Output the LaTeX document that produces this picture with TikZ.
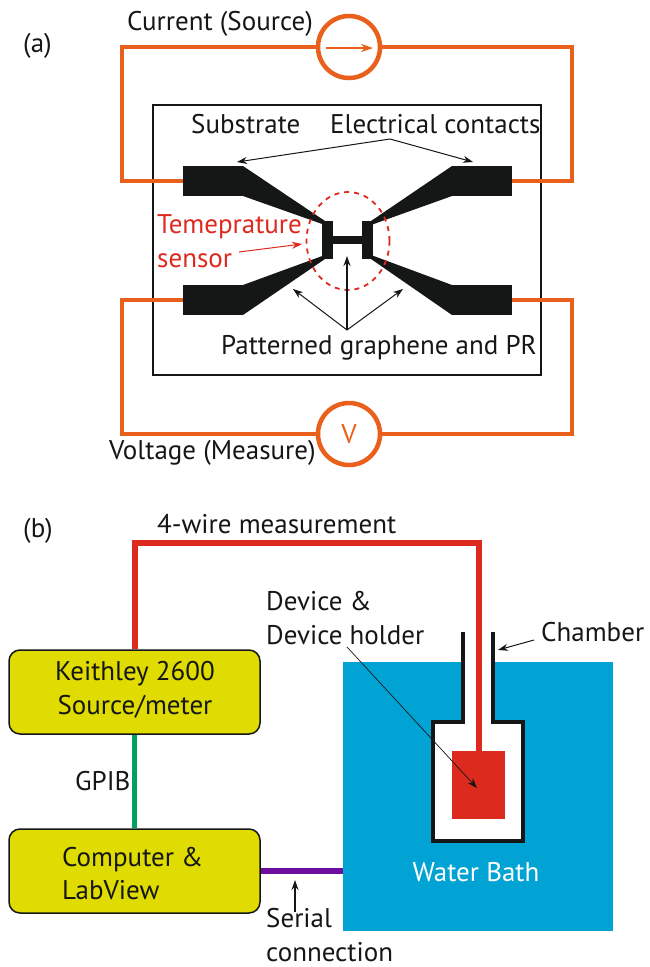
\documentclass[tikz,border=0pt]{standalone}
\usepackage{fontspec}
\setmainfont{PT Sans}
\usetikzlibrary{arrows.meta,shapes.geometric}
\definecolor{wireorange}{HTML}{E8601C}
\definecolor{sensorred}{HTML}{DD2A1E}
\definecolor{padblack}{HTML}{141716}
\definecolor{bathblue}{HTML}{00A3D3}
\definecolor{boxyellow}{HTML}{E0DB00}
\definecolor{gpibgreen}{HTML}{00A160}
\definecolor{serialpurple}{HTML}{6C0D9E}
\tikzset{
  lbl/.style={inner sep=0pt,font=\fontsize{27}{33.5}\selectfont,text=padblack},
  wire/.style={draw=wireorange,line width=4.5pt},
  meter/.style={draw=wireorange,line width=4.5pt,circle,fill=white,minimum size=62pt,inner sep=0pt},
  padbox/.style={fill=padblack,minimum width=60pt,minimum height=30pt,inner sep=0pt},
  bar/.style={fill=padblack,minimum width=11pt,minimum height=38pt,inner sep=0pt},
  note/.style={line width=1pt,-{Stealth[length=10pt,width=7pt]},draw=padblack},
  box/.style={draw=padblack,line width=1.5pt,fill=boxyellow,rounded corners=11pt,minimum width=251pt,minimum height=84pt,inner sep=0pt}
}
\begin{document}
\begin{tikzpicture}[x=1pt,y=-1pt]
    \useasboundingbox (0,0) rectangle (650,967);

    % (a) sample
    \node [draw=padblack,line width=1.5pt,minimum width=388pt,minimum height=270pt,inner sep=0pt] (substrate) at (347,240) {};

    \node [padbox] (pad1) at (213,181) {};
    \node [padbox] (pad2) at (482,181) {};
    \node [padbox] (pad3) at (213,300) {};
    \node [padbox] (pad4) at (482,300) {};
    \node [bar] (bar1) at (327.5,240) {};
    \node [bar] (bar2) at (367.5,240) {};
    \node [fill=padblack,minimum width=30pt,minimum height=8pt,inner sep=0pt] (bridge) at (347.5,240) {};
    \fill[padblack] (243,166) -- (325,221) -- (325,225) -- (243,196) -- cycle;
    \fill[padblack] (452,166) -- (371,221) -- (371,225) -- (452,196) -- cycle;
    \fill[padblack] (243,315) -- (325,259) -- (325,255) -- (243,285) -- cycle;
    \fill[padblack] (452,315) -- (371,259) -- (371,255) -- (452,285) -- cycle;

    \node [draw=sensorred,line width=1.8pt,dash pattern=on 5pt off 5pt,ellipse,minimum width=83pt,minimum height=98pt,inner sep=0pt] (sensor) at (348,241) {};

    % (a) wires
    \node [meter] (source) at (349,47) {};
    \node [meter] (measure) at (349,434) {};
    \coordinate (c1) at (122,47);
    \coordinate (c2) at (572,47);
    \coordinate (c3) at (122,434);
    \coordinate (c4) at (572,434);
    \draw[wire] (pad1.west) -| (c1) -- (source.west);
    \draw[wire] (pad2.east) -| (c2) -- (source.east);
    \draw[wire] (pad3.west) -| (c3) -- (measure.west);
    \draw[wire] (pad4.east) -| (c4) -- (measure.east);

    \coordinate (a1) at (326,48);
    \coordinate (a2) at (373,48);
    \draw[draw=wireorange,line width=1.5pt,-{Stealth[length=12pt,width=8pt]}] (a1) -- (a2);
    \node [lbl,text=wireorange] (vlabel) at (measure) {V};

    % (a) labels
    \node [lbl,anchor=west] (alabel) at (23,46) {(a)};
    \node [lbl,anchor=west] (currentlabel) at (127,24) {Current (Source)};
    \node [lbl,anchor=west] (voltagelabel) at (109,453) {Voltage (Measure)};
    \node [lbl,anchor=west] (substratelabel) at (191,124) {Substrate};
    \node [lbl,anchor=west] (contactslabel) at (330,124) {Electrical contacts};
    \node [lbl,anchor=west,text=sensorred,align=left] (sensorlabel) at (157,241) {Temeprature\\sensor};
    \node [lbl,anchor=west] (patternlabel) at (221,348) {Patterned graphene and PR};

    \coordinate (ec) at (390,139);
    \coordinate (ec1) at (237,162);
    \coordinate (ec2) at (473,162);
    \draw[note] (ec) -- (ec1);
    \draw[note] (ec) -- (ec2);
    \coordinate (sn) at (239,252);
    \coordinate (sn1) at (302,244);
    \draw[note,draw=sensorred] (sn) -- (sn1);
    \coordinate (pg) at (347,330);
    \coordinate (pg1) at (293,289);
    \coordinate (pg2) at (347,256);
    \coordinate (pg3) at (403,289);
    \draw[note] (pg) -- (pg1);
    \draw[note,line width=1.6pt] (pg) -- (pg2);
    \draw[note] (pg) -- (pg3);

    % (b) setup
    \node [fill=bathblue,minimum width=270pt,minimum height=269pt,inner sep=0pt] (bath) at (478,796.5) {};
    \node [box] (keithley) at (134.5,692) {};
    \node [box] (computer) at (134.5,871) {};
    \node [lbl,align=center] (keithleylabel) at (135,690) {Keithley 2600\\Source/meter};
    \node [lbl,anchor=west,align=left] (computerlabel) at (62,873.5) {Computer \&\\LabView};

    \draw[draw=padblack,line width=3.5pt,fill=white] (463,632) -- (463,722) -- (433,722) -- (433,841) -- (523,841) -- (523,722) -- (493,722) -- (493,632);
    \node [fill=sensorred,minimum width=53pt,minimum height=68pt,inner sep=0pt] (device) at (478.5,785) {};

    \coordinate (w1) at (134.5,543);
    \coordinate (w2) at (478.5,543);
    \draw[draw=sensorred,line width=6pt] (keithley.north) -- (w1) -- (w2) -- (device.north);
    \draw[draw=gpibgreen,line width=5pt] (keithley.south) -- (computer.north);
    \draw[draw=serialpurple,line width=5.5pt] (computer.east) -- (bath.west |- computer.east);

    % (b) labels
    \node [lbl,anchor=west] (blabel) at (23,531) {(b)};
    \node [lbl,anchor=west] (fourwire) at (157,524) {4-wire measurement};
    \node [lbl,anchor=west,align=left] (devicelabel) at (266,618) {Device \&\\Device holder};
    \node [lbl,anchor=west] (chamberlabel) at (541,632) {Chamber};
    \node [lbl,text=white] (bathlabel) at (476,872) {Water Bath};
    \node [lbl,anchor=west] (gpiblabel) at (75,781) {GPIB};
    \node [lbl,anchor=west,align=left] (seriallabel) at (266,935) {Serial\\connection};

    \coordinate (dv) at (347,647);
    \coordinate (dv1) at (477,788);
    \draw[note,line width=0.7pt] (dv) -- (dv1);
    \coordinate (ch) at (534,640);
    \coordinate (ch1) at (498,650);
    \draw[note] (ch) -- (ch1);
    \coordinate (sr) at (295,912);
    \coordinate (sr1) at (295,880);
    \draw[note,line width=1.5pt] (sr) -- (sr1);

\end{tikzpicture}
\end{document}
